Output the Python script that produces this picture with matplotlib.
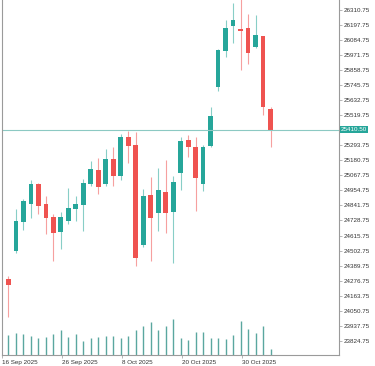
import numpy as np
import matplotlib
matplotlib.use("Agg")
import matplotlib.pyplot as plt

# daily candles, 16 Sep 2025 .. 4 Nov 2025
dates = ["16 Sep", "17 Sep", "18 Sep", "19 Sep", "22 Sep", "23 Sep", "24 Sep", "25 Sep", "26 Sep",
         "29 Sep", "30 Sep", "1 Oct", "2 Oct", "3 Oct", "6 Oct", "7 Oct", "8 Oct",
         "9 Oct", "10 Oct", "13 Oct", "14 Oct", "15 Oct", "16 Oct", "17 Oct", "20 Oct",
         "21 Oct", "22 Oct", "23 Oct", "24 Oct", "27 Oct", "28 Oct", "29 Oct", "30 Oct",
         "31 Oct", "3 Nov", "4 Nov"]
opens = [24291.6, 24502.2, 24720.3, 24855.6, 24998.5, 24848.1, 24750.4, 24645.0, 24727.8,
         24818.0, 24848.1, 25006.0, 25103.8, 25006.0, 25186.5, 25058.7, 25352.0,
         25291.8, 24547.3, 24915.8, 24788.0, 24938.4, 24795.5, 25081.2, 25329.4,
         25276.7, 25006.0, 25284.3, 25728.0, 25998.7, 26186.7, 26164.1, 26171.6,
         26028.7, 26111.5, 25562.5]
highs = [24314.2, 24818.0, 24893.2, 25028.6, 25013.5, 24915.8, 24780.4, 24795.5, 24975.9,
         24915.8, 25036.1, 25171.5, 25194.0, 25261.7, 25276.7, 25374.5, 25397.1,
         25389.6, 24968.4, 25051.2, 25118.8, 25179.0, 25058.7, 25352.0, 25367.0,
         25352.0, 25291.8, 25577.6, 26013.7, 26231.8, 26359.6, 26397.2, 26276.9,
         26269.4, 26115.0, 25577.6]
lows = [24005.9, 24487.2, 24660.1, 24750.4, 24780.4, 24630.0, 24427.0, 24517.2, 24705.2,
        24727.8, 24652.6, 24991.0, 24930.8, 24991.0, 24991.0, 25028.6, 25156.4,
        24389.4, 24532.3, 24427.0, 24652.6, 24637.5, 24412.0, 24960.9, 25201.5,
        24803.0, 24953.4, 25276.7, 25697.9, 25953.6, 26058.9, 25855.8, 25900.9,
        26021.2, 25517.4, 25276.7]
closes = [24246.5, 24720.3, 24870.7, 24998.5, 24840.6, 24750.4, 24637.5, 24750.4, 24818.0,
          24848.1, 25006.0, 25111.3, 24983.5, 25186.5, 25058.7, 25352.0, 25284.3,
          24449.6, 24908.3, 24750.4, 24953.4, 24788.0, 25013.5, 25321.9, 25276.7,
          25043.6, 25276.7, 25509.9, 26006.2, 26171.6, 26231.8, 26149.1, 25983.6,
          26119.0, 25577.6, 25410.50]
volumes = [200, 220, 210, 190, 170, 180, 210, 250, 180,
           210, 140, 170, 180, 190, 190, 170, 190,
           250, 290, 330, 250, 290, 360, 170, 150,
           230, 230, 170, 170, 160, 200, 340, 260,
           220, 290, 60]
date_labels = {0: "16 Sep 2025", 8: "26 Sep 2025", 16: "8 Oct 2025", 24: "20 Oct 2025", 32: "30 Oct 2025"}
last_price = 25410.50

up_col = "#26a69a"; dn_col = "#ef5350"; line_col = "#8cc9c3"; axis_col = "#9a9a9a"
plt.rcParams.update({"font.family": ["Liberation Sans", "DejaVu Sans"], "font.size": 4.5})

fig = plt.figure(figsize=(3.75, 3.66), dpi=100)
ax = fig.add_axes([2/375, 11/366, 337/375, 355/366])
x = np.arange(len(opens))
o = np.array(opens); c = np.array(closes); h = np.array(highs); l = np.array(lows)
cols = np.where(c >= o, up_col, dn_col)

# volume underneath
axv = ax.twinx()
axv.vlines(x, 0, volumes, color="#5aa79f", linewidth=1.0)
axv.set_ylim(0, max(volumes) * 354 / 36)
axv.axis("off")

ax.set_zorder(axv.get_zorder() + 1); ax.patch.set_visible(False)
ax.vlines(x, l, h, color=cols, linewidth=0.8, alpha=0.55)
ax.bar(x, np.abs(c - o) + 1.5, bottom=np.minimum(o, c), width=0.62, color=cols, linewidth=0)
ax.axhline(last_price, color=line_col, linewidth=0.8)

ax.set_xlim(-0.8, 44.13)
ax.set_ylim(23720, 26382)
yt = [26310.75 - 113 * k for k in range(23) if k != 8]
ax.yaxis.tick_right()
ax.set_yticks(yt)
ax.set_yticklabels([f"{v:.2f}" for v in yt], color="#333333")
ax.tick_params(axis="y", length=2, width=0.5, color=axis_col, pad=1)
ax.set_xticks([k - 0.85 for k in date_labels])
ax.set_xticklabels(list(date_labels.values()), ha="left", color="#333333")
ax.tick_params(axis="x", length=2.5, width=0.5, color=axis_col, pad=1)
for s in ["left", "bottom", "right"]:
    ax.spines[s].set_color(axis_col); ax.spines[s].set_linewidth(0.8)
ax.spines["top"].set_visible(False)

ax.text(1.006, last_price, f"{last_price:.2f}", transform=ax.get_yaxis_transform(),
        va="center", ha="left", color="white", fontsize=4.5,
        bbox=dict(boxstyle="square,pad=0.15", fc=up_col, ec="none"))

fig.savefig("out.png", dpi=100)
